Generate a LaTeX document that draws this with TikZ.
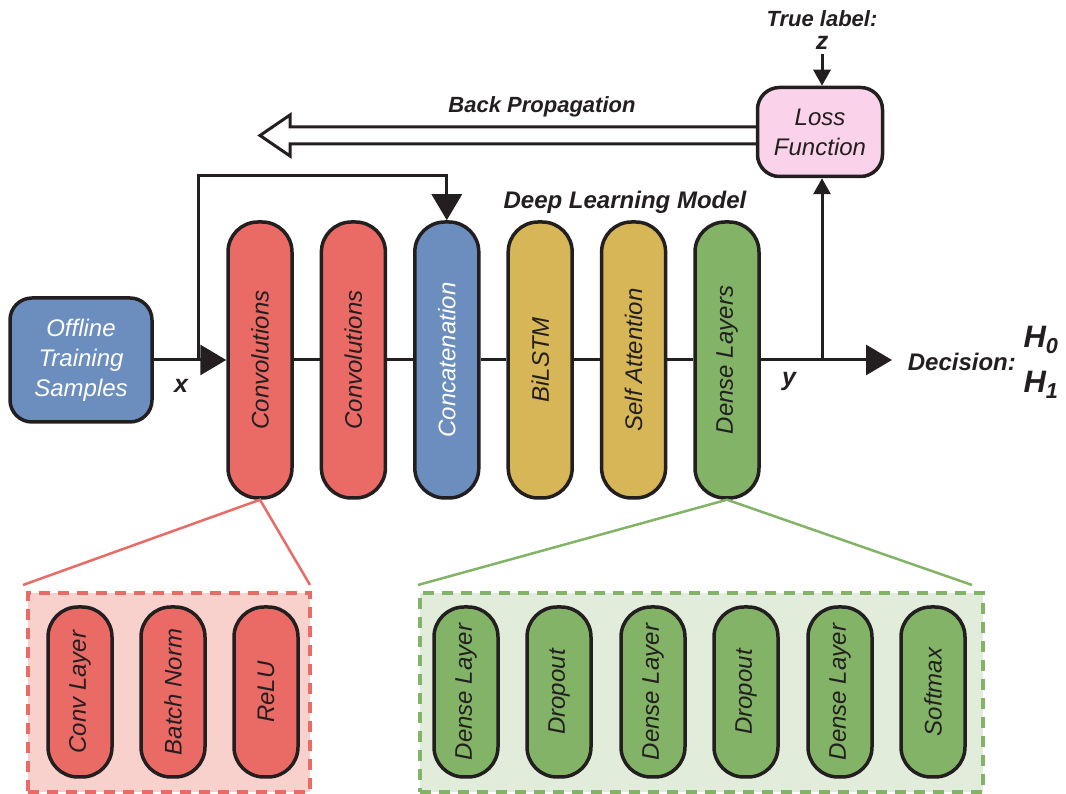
\documentclass[tikz,border=0pt]{standalone}
\usepackage{fontspec}
\setmainfont{Liberation Sans}
\usetikzlibrary{arrows.meta}

\definecolor{convred}{HTML}{EA6B66}
\definecolor{convbg}{HTML}{F8D0CC}
\definecolor{catblue}{HTML}{6C8EBF}
\definecolor{lstmgold}{HTML}{D6B656}
\definecolor{densegreen}{HTML}{82B366}
\definecolor{densebg}{HTML}{E1ECDA}
\definecolor{losspink}{HTML}{FAD3EA}
\definecolor{ink}{HTML}{231F20}

\begin{document}
\begin{tikzpicture}[x=1pt, y=1pt, color=ink, line width=3pt,
  every node/.style={font=\fontsize{24}{30}\selectfont\itshape},
  layer/.style={draw=ink, line width=3.5pt, rounded corners=30pt, minimum width=64pt, minimum height=276pt, inner sep=0pt},
  sublayer/.style={layer, minimum height=170pt},
  tag/.style={font=\fontsize{22}{26}\selectfont\bfseries\itshape},
  bigtag/.style={font=\fontsize{25}{28}\selectfont\bfseries\itshape},
  frame/.style={dashed, dash pattern=on 11pt off 8pt, line width=4pt, minimum width=#1, minimum height=199pt},
  bigtip/.style={-{Triangle[length=26pt, width=30pt]}},
  smalltip/.style={-{Triangle[length=16pt, width=17pt]}}]
	\useasboundingbox (0,0) rectangle (1066,794);

	% === input and model ===
	\node[layer, fill=catblue, text=white, align=center, minimum width=142pt, minimum height=124pt, rounded corners=22pt] (offline) at (81,434) {Offline\\Training\\Samples};
	\node[layer, fill=convred] (conv1) at (260,434) {\rotatebox{90}{Convolutions}};
	\node[layer, fill=convred] (conv2) at (353.4,434) {\rotatebox{90}{Convolutions}};
	\node[layer, fill=catblue, text=white] (cat) at (446.8,434) {\rotatebox{90}{Concatenation}};
	\node[layer, fill=lstmgold] (lstm) at (540.2,434) {\rotatebox{90}{BiLSTM}};
	\node[layer, fill=lstmgold] (att) at (633.6,434) {\rotatebox{90}{Self Attention}};
	\node[layer, fill=densegreen] (dense) at (727,434) {\rotatebox{90}{Dense Layers}};
	\node[tag, font=\fontsize{24}{28}\selectfont\bfseries\itshape] (dlm) at (625,592) {Deep Learning Model};

	% main signal path
	\coordinate (split) at (198,434);
	\coordinate (tap) at (822,434);
	\coordinate (out) at (892,434);
	\draw[bigtip] (offline.east) -- (conv1.west);
	\draw (conv1.east) -- (conv2.west);
	\draw (conv2.east) -- (cat.west);
	\draw (cat.east) -- (lstm.west);
	\draw (lstm.east) -- (att.west);
	\draw (att.east) -- (dense.west);
	\draw[bigtip] (dense.east) -- (out);
	\draw[bigtip] (split) |- ([yshift=45pt]cat.north) -- (cat.north);
	\node[bigtag] (xin) at (181,408) {x};
	\node[bigtag] (yout) at (789,413) {y};

	% decision
	\node[bigtag, font=\fontsize{24}{28}\selectfont\bfseries\itshape, anchor=west] (decision) at (903,432) {Decision:};
	\node[bigtag, font=\fontsize{31}{34}\selectfont\bfseries\itshape] (hzero) at (1041,454) {H\textsubscript{0}};
	\node[bigtag, font=\fontsize{31}{34}\selectfont\bfseries\itshape] (hone) at (1041,409) {H\textsubscript{1}};

	% === loss and back propagation ===
	\node[layer, fill=losspink, align=center, minimum width=125pt, minimum height=89pt, rounded corners=22pt] (loss) at (820,662) {Loss\\Function};
	\node[tag] (truelabel) at (822,775) {True label:};
	\node[bigtag] (zlabel) at (822,751) {z};
	\draw[smalltip] (zlabel.south) -- (zlabel.south |- loss.north);
	\draw[smalltip] (tap) -- (tap |- loss.south);

	\coordinate (bp) at (260,658.5);
	\draw[line join=miter] ([yshift=5pt]loss.west) -- ([xshift=30pt, yshift=8.5pt]bp) -- ([xshift=30pt, yshift=20.5pt]bp) -- (bp)
		-- ([xshift=30pt, yshift=-20.5pt]bp) -- ([xshift=30pt, yshift=-8.5pt]bp) -- ([yshift=-12pt]loss.west);
	\node[tag] (bplabel) at (542,687) {Back Propagation};

	% === convolution block ===
	\node[frame=282pt, fill=convbg, draw=convred] (convdetail) at (169,101.5) {};
	\draw[convred, line width=2.5pt] ([xshift=-3pt, yshift=6pt]convdetail.north west) -- (conv1.south) -- ([xshift=-2pt, yshift=6pt]convdetail.north east);
	\node[sublayer, fill=convred] (convl) at (80,102) {\rotatebox{90}{Conv Layer}};
	\node[sublayer, fill=convred] (bnorm) at (173,102) {\rotatebox{90}{Batch Norm}};
	\node[sublayer, fill=convred] (relu) at (266,102) {\rotatebox{90}{ReLU}};

	% === dense block ===
	\node[frame=563pt, fill=densebg, draw=densegreen] (densedetail) at (701.5,101.5) {};
	\draw[densegreen, line width=2.5pt] ([yshift=6pt]densedetail.north west) -- (dense.south) -- ([xshift=-13pt, yshift=6pt]densedetail.north east);
	\node[sublayer, fill=densegreen] (fc1) at (466,102) {\rotatebox{90}{Dense Layer}};
	\node[sublayer, fill=densegreen] (drop1) at (559,102) {\rotatebox{90}{Dropout}};
	\node[sublayer, fill=densegreen] (fc2) at (653,102) {\rotatebox{90}{Dense Layer}};
	\node[sublayer, fill=densegreen] (drop2) at (746,102) {\rotatebox{90}{Dropout}};
	\node[sublayer, fill=densegreen] (fc3) at (840,102) {\rotatebox{90}{Dense Layer}};
	\node[sublayer, fill=densegreen] (soft) at (933,102) {\rotatebox{90}{Softmax}};
\end{tikzpicture}
\end{document}
